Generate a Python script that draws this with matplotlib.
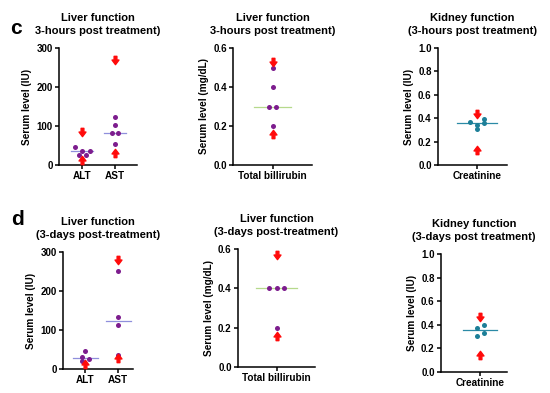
import matplotlib

matplotlib.use("Agg")
import matplotlib.pyplot as plt
from matplotlib.path import Path

plt.rcParams["font.family"] = ["Liberation Sans", "DejaVu Sans"]
plt.rcParams["font.weight"] = "bold"

# ---- data ----
# 3 hours post treatment
c_alt = [45, 36, 36, 25, 25]
c_alt_dx = [-0.2, 0.0, 0.23, -0.1, 0.13]
c_ast = [122, 103, 81, 82, 54]
c_ast_dx = [0.0, 0.0, -0.1, 0.1, 0.0]
c_alt_range = [13, 84]
c_ast_range = [32, 270]
c_bili = [0.5, 0.4, 0.3, 0.3, 0.2]
c_bili_dx = [0.0, 0.0, -0.09, 0.09, 0.0]
c_bili_range = [0.16, 0.53]
c_crea = [0.368, 0.342, 0.308, 0.393, 0.359]
c_crea_dx = [-0.24, 0.0, 0.0, 0.22, 0.22]
c_crea_range = [0.13, 0.44]

# 3 days post treatment
d_alt = [47, 32, 26, 20]
d_alt_dx = [0.0, -0.1, 0.13, -0.1]
d_ast = [251, 134, 113, 36]
d_ast_dx = [0.0, 0.0, 0.0, 0.0]
d_alt_range = [13]
d_ast_range = [27, 279]
d_bili = [0.4, 0.4, 0.4, 0.2]
d_bili_dx = [-0.19, 0.0, 0.19, 0.0]
d_bili_range = [0.16, 0.57]
d_crea = [0.374, 0.397, 0.306, 0.331]
d_crea_dx = [-0.11, 0.13, -0.11, 0.13]
d_crea_range = [0.14, 0.47]

PURPLE = "#7d1d8e"
LAVENDER = "#8f8fdc"
GREEN = "#b6d98c"
TEAL = "#1d7f98"
TEAL_LINE = "#2b8aa6"
RED = "#ff0a0a"

down_arrow = Path(
    [(-0.3, 0.9), (0.3, 0.9), (0.3, 0.1), (0.75, 0.1), (0.0, -0.9),
     (-0.75, 0.1), (-0.3, 0.1), (-0.3, 0.9)],
    [Path.MOVETO] + [Path.LINETO] * 6 + [Path.CLOSEPOLY],
)
up_arrow = Path(
    [(x, -y) for x, y in down_arrow.vertices], down_arrow.codes
)


def median(vals):
    s = sorted(vals)
    n = len(s)
    return s[n // 2] if n % 2 else (s[n // 2 - 1] + s[n // 2]) / 2.0


def draw_group(ax, xpos, vals, dx, rng, pcolor, lcolor, half):
    ax.scatter([xpos + d for d in dx], vals, s=13, color=pcolor, zorder=3, linewidths=0)
    m = median(vals)
    ax.plot([xpos - half, xpos + half], [m, m], color=lcolor, lw=0.9, zorder=2)
    if len(rng) == 2:
        lo, hi = rng
        ax.plot([xpos], [hi], marker=down_arrow, ms=6, color=RED, ls="none", zorder=4)
        ax.plot([xpos], [lo], marker=up_arrow, ms=6, color=RED, ls="none", zorder=4)
    else:
        ax.plot([xpos], [rng[0]], marker=up_arrow, ms=6, color=RED, ls="none", zorder=4)


def style(ax, title, ylabel, ylim, yticks, xlim, xticks, xlabels):
    for side in ["top", "right"]:
        ax.spines[side].set_visible(False)
    for side in ["left", "bottom"]:
        ax.spines[side].set_linewidth(1.1)
    ax.set_ylim(*ylim)
    ax.set_xlim(*xlim)
    ax.set_yticks(yticks)
    ax.set_xticks(xticks)
    ax.set_xticklabels(xlabels, fontsize=7.2, fontweight="bold")
    ax.set_yticklabels([("%g" % t) if isinstance(t, int) else "%.1f" % t for t in yticks],
                       fontsize=7, fontweight="bold")
    ax.tick_params(direction="out", length=3, width=1.1, pad=1.5)
    ax.set_ylabel(ylabel, fontsize=7.2, fontweight="bold", labelpad=3)
    ax.set_title(title, fontsize=8, fontweight="bold", pad=10, linespacing=1.45)


fig = plt.figure(figsize=(5.5, 3.93), dpi=100)
W, H = 550.0, 393.0


def add_axes(left, right, top, bottom):
    return fig.add_axes([left / W, (H - bottom) / H, (right - left) / W, (bottom - top) / H])


# ---- row c ----
ax = add_axes(59, 137, 48, 165)
draw_group(ax, 0, c_alt, c_alt_dx, c_alt_range, PURPLE, LAVENDER, 0.33)
draw_group(ax, 1, c_ast, c_ast_dx, c_ast_range, PURPLE, LAVENDER, 0.33)
style(ax, "Liver function\n3-hours post treatment)", "Serum level (IU)",
      (0, 300), [0, 100, 200, 300], (-0.7, 1.67), [0, 1], ["ALT", "AST"])

ax = add_axes(233, 312, 48, 165)
draw_group(ax, 0, c_bili, c_bili_dx, c_bili_range, PURPLE, GREEN, 0.48)
style(ax, "Liver function\n3-hours post treatment)", "Serum level (mg/dL)",
      (0, 0.6), [0.0, 0.2, 0.4, 0.6], (-1.0, 1.0), [0], ["Total billirubin"])

ax = add_axes(438, 507, 48, 165)
draw_group(ax, 0, c_crea, c_crea_dx, c_crea_range, TEAL, TEAL_LINE, 0.67)
style(ax, "Kidney function\n(3-hours post treatment)", "Serum level (IU)",
      (0, 1.0), [0.0, 0.2, 0.4, 0.6, 0.8, 1.0], (-1.3, 1.0), [0], ["Creatinine"])

# ---- row d ----
ax = add_axes(63, 133, 252, 369)
draw_group(ax, 0, d_alt, d_alt_dx, d_alt_range, PURPLE, LAVENDER, 0.38)
draw_group(ax, 1, d_ast, d_ast_dx, d_ast_range, PURPLE, LAVENDER, 0.38)
style(ax, "Liver function\n(3-days post-treatment)", "Serum level (IU)",
      (0, 300), [0, 100, 200, 300], (-0.67, 1.45), [0, 1], ["ALT", "AST"])

ax = add_axes(238, 315, 249, 367)
draw_group(ax, 0, d_bili, d_bili_dx, d_bili_range, PURPLE, GREEN, 0.52)
style(ax, "Liver function\n(3-days post-treatment)", "Serum level (mg/dL)",
      (0, 0.6), [0.0, 0.2, 0.4, 0.6], (-1.0, 1.0), [0], ["Total billirubin"])

ax = add_axes(441, 507, 254, 372)
draw_group(ax, 0, d_crea, d_crea_dx, d_crea_range, TEAL, TEAL_LINE, 0.58)
style(ax, "Kidney function\n(3-days post treatment)", "Serum level (IU)",
      (0, 1.0), [0.0, 0.2, 0.4, 0.6, 0.8, 1.0], (-1.3, 0.9), [0], ["Creatinine"])

fig.text(16 / W, 1 - 29 / H, "c", fontsize=15, fontweight="bold", ha="center", va="center")
fig.text(18 / W, 1 - 219 / H, "d", fontsize=15, fontweight="bold", ha="center", va="center")

fig.savefig("out.png", dpi=100, facecolor="white")
